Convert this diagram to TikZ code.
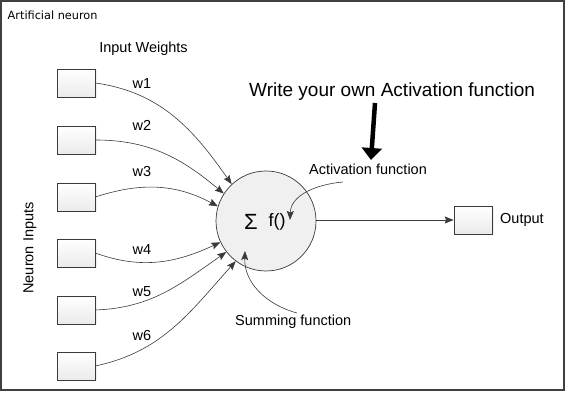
\documentclass[tikz,border=0pt]{standalone}
\usepackage{fontspec}
\setmainfont{Liberation Sans}
\newfontfamily\dvfont{DejaVu Sans}
\usetikzlibrary{arrows.meta,shadows}
\definecolor{ln}{HTML}{3A3A3A}
\tikzset{
  inbox/.style={draw=ln, line width=0.7pt, minimum width=38pt, minimum height=28pt,
    inner sep=0pt, top color=white, bottom color=black!8,
    drop shadow={opacity=0.12, shadow xshift=1.5pt, shadow yshift=-1.5pt}},
  neuron/.style={circle, draw=ln, line width=0.7pt, minimum size=100pt, inner sep=0pt,
    fill=black!6},
  lbl/.style={font=\fontsize{14.5}{16}\selectfont, text=black, inner sep=0pt},
  wire/.style={draw=ln, line width=0.6pt, -{Stealth[length=9pt,width=7pt,inset=1.5pt]}},
  bigarrow/.style={draw=black, line width=4.5pt, -{Triangle[length=12pt,width=20pt]}},
}
\begin{document}
\begin{tikzpicture}[x=1pt,y=1pt]
\useasboundingbox (0,0) rectangle (570,393);
\draw[black!75, line width=1.6pt, fill=white] (1,3) rectangle (564,392);

\node[anchor=west, inner sep=0pt, font=\dvfont\fontsize{11.3}{13}\selectfont] (title) at (7.5,378) {Artificial neuron};
\node[lbl, anchor=base] (iw) at (143.5,340) {Input Weights};
\node[lbl, rotate=90] (ni) at (30,145) {Neuron Inputs};

\node[inbox] (i1) at (76,310) {};
\node[inbox] (i2) at (76,253) {};
\node[inbox] (i3) at (76,196) {};
\node[inbox] (i4) at (76,140) {};
\node[inbox] (i5) at (76,83) {};
\node[inbox] (i6) at (76,27) {};

\node[neuron] (n) at (266,172) {};
\node[inner sep=0pt, font=\fontsize{22}{24}\selectfont] (sig) at (251,171.5) {Σ};
\node[inner sep=0pt, font=\fontsize{18}{20}\selectfont] (fx) at (277,171.5) {f()};

\node[inbox] (o) at (473,173) {};
\node[lbl, anchor=base west] (ol) at (500,169) {Output};

\node[lbl, anchor=base] (w1) at (142,304) {w1};
\node[lbl, anchor=base] (w2) at (142,262) {w2};
\node[lbl, anchor=base] (w3) at (142,216) {w3};
\node[lbl, anchor=base] (w4) at (142,138) {w4};
\node[lbl, anchor=base] (w5) at (142,96) {w5};
\node[lbl, anchor=base] (w6) at (142,52) {w6};

\draw[wire] (i1.east) to[out=-8, in=125] (n.133);
\draw[wire] (i2.east) to[out=0, in=140] (n.147);
\draw[wire] (i3.east) to[out=18, in=152] (n.163);
\draw[wire] (i4.east) to[out=-20, in=205] (n.205);
\draw[wire] (i5.east) to[out=2, in=215] (n.218);
\draw[wire] (i6.east) to[out=12, in=228] (n.233);

\draw[wire] (n.east |- o.west) -- (o.west);

\node[anchor=base west, inner sep=0pt, font=\fontsize{19}{22}\selectfont] (wr) at (249,296) {Write your own Activation function};
\coordinate (ba) at (375,290);
\coordinate (bb) at (371,233);
\draw[bigarrow] (ba) -- (bb);

\node[lbl, anchor=base west] (af) at (309,218) {Activation function};
\coordinate (afs) at (343,211);
\coordinate (aft) at (290,173);
\draw[wire] (afs) to[out=185, in=88] (aft);

\node[lbl, anchor=base west] (sf) at (235,67) {Summing function};
\coordinate (sfs) at (297,80);
\coordinate (sft) at (245,142);
\draw[wire] (sfs) to[out=165, in=-92] (sft);
\end{tikzpicture}
\end{document}
